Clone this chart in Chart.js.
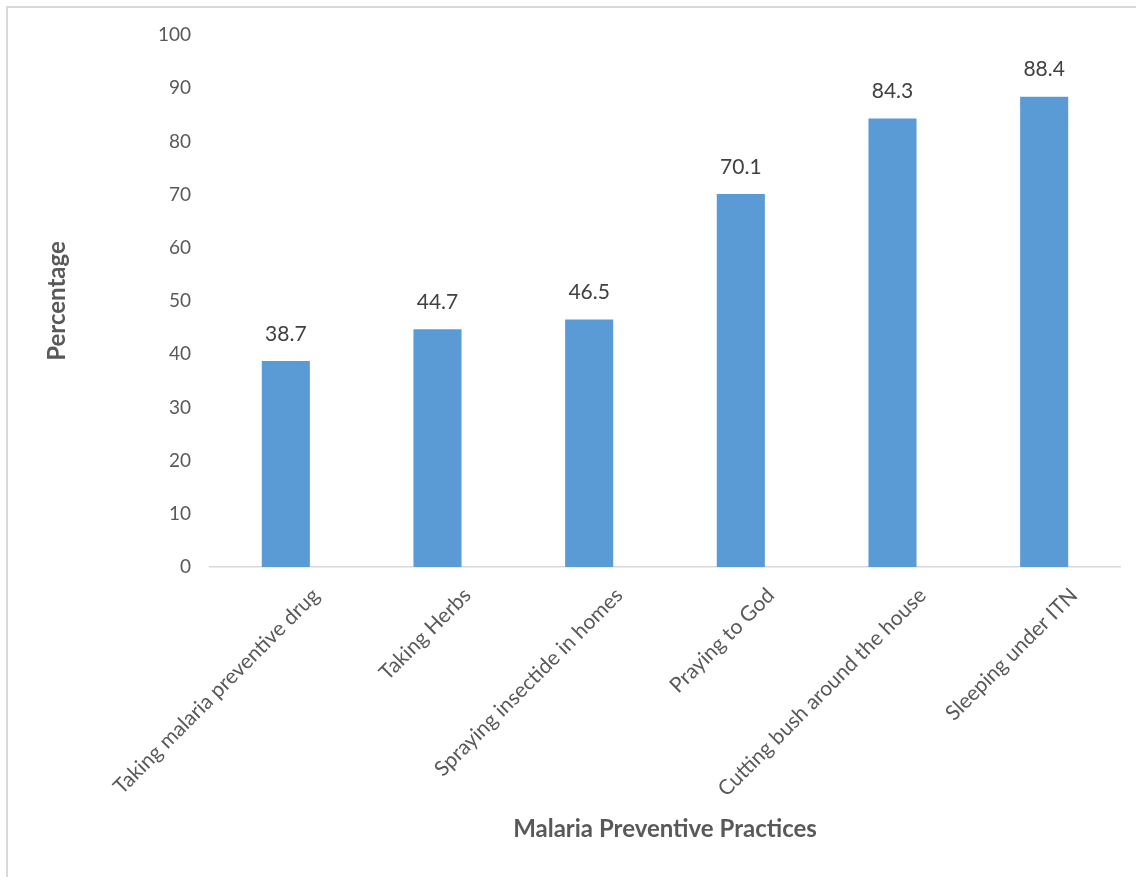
<!DOCTYPE html>
<html>
<head>
<meta charset="utf-8">
<script src="https://cdn.jsdelivr.net/npm/chart.js@4.4.1/dist/chart.umd.min.js"></script>
<style>
  html, body { margin: 0; padding: 0; background: #fff; overflow: hidden; }
  #frame {
    position: absolute; left: 6px; top: 6px; width: 1140px; height: 880px;
    border: 2px solid #d9d9d9; box-sizing: border-box;
  }
  #wrap { position: absolute; left: 0; top: 0; width: 1136px; height: 877px; }
</style>
</head>
<body>
<div id="frame"></div>
<div id="wrap"><canvas id="practicesChart"></canvas></div>
<script>
// Malaria preventive practices (percentage)
const categories = [
  'Taking malaria preventive drug',
  'Taking Herbs',
  'Spraying insectide in homes',
  'Praying to God',
  'Cutting bush around the house',
  'Sleeping under ITN',
];
const percentages = [38.7, 44.7, 46.5, 70.1, 84.3, 88.4];
const yTicks = [0, 10, 20, 30, 40, 50, 60, 70, 80, 90, 100];

const FONT = 'Lato, "Open Sans", sans-serif';
const TEXT = '#595959';

// draw the value above each bar
const valueLabels = {
  id: 'valueLabels',
  afterDatasetsDraw(chart) {
    const ctx = chart.ctx;
    const meta = chart.getDatasetMeta(0);
    ctx.save();
    ctx.font = '21px ' + FONT;
    ctx.fillStyle = '#404040';
    ctx.textAlign = 'center';
    ctx.textBaseline = 'middle';
    meta.data.forEach((bar, i) => {
      ctx.fillText(percentages[i].toFixed(1), bar.x, bar.y - 27);
    });
    ctx.restore();
  },
};

document.addEventListener('DOMContentLoaded', function () {
  const ctx = document.getElementById('practicesChart');
  new Chart(ctx, {
    type: 'bar',
    data: {
      labels: categories,
      datasets: [
        {
          data: percentages,
          backgroundColor: '#5b9bd5',
          borderWidth: 0,
          barPercentage: 0.317,
          categoryPercentage: 1,
        },
      ],
    },
    options: {
      responsive: true,
      maintainAspectRatio: false,
      animation: false,
      layout: {
        padding: { left: 43, top: 35, right: 16, bottom: 33 },
      },
      plugins: {
        legend: { display: false },
        tooltip: { enabled: false },
      },
      scales: {
        x: {
          grid: { display: false },
          border: { display: true, color: '#d9d9d9', width: 1.5 },
          ticks: {
            color: TEXT,
            font: { family: FONT, size: 21 },
            minRotation: 45,
            maxRotation: 45,
            padding: 8,
            labelOffset: 30,
          },
          title: {
            display: true,
            text: 'Malaria Preventive Practices',
            color: TEXT,
            font: { family: FONT, size: 24, weight: 'bold' },
            padding: 0,
          },
          afterFit(scale) {
            scale.height = 277;
          },
        },
        y: {
          min: 0,
          max: 100,
          grid: { display: false },
          border: { display: false },
          afterBuildTicks(scale) {
            scale.ticks = yTicks.map((v) => ({ value: v }));
          },
          ticks: {
            color: TEXT,
            font: { family: FONT, size: 19 },
            padding: 11,
          },
          title: {
            display: true,
            text: 'Percentage',
            color: TEXT,
            font: { family: FONT, size: 24, weight: 'bold' },
            padding: 0,
          },
          afterFit(scale) {
            scale.width = 167;
          },
        },
      },
    },
    plugins: [valueLabels],
  });
});
</script>
</body>
</html>
